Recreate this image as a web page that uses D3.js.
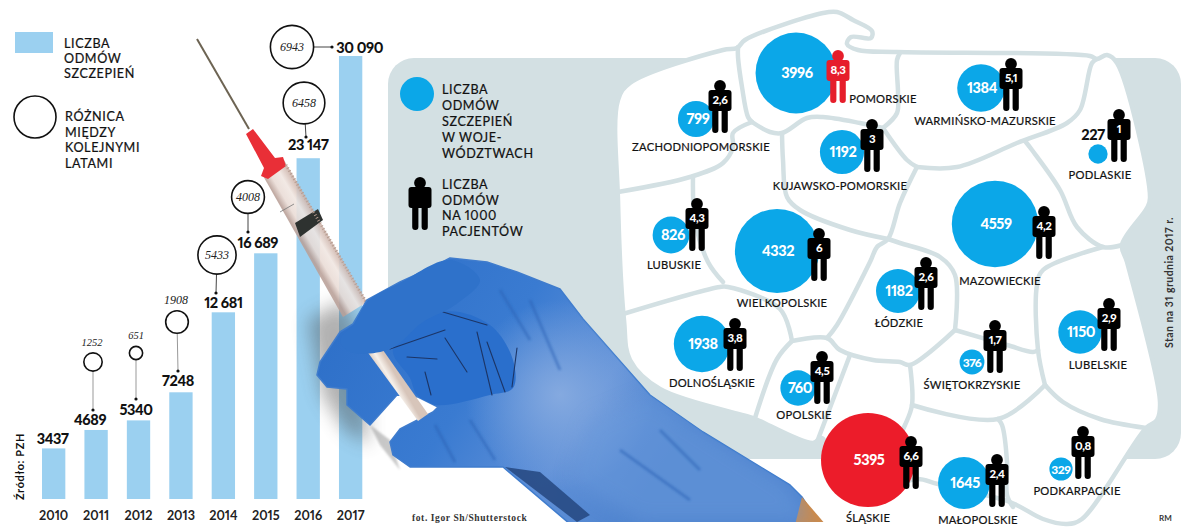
<!DOCTYPE html>
<html>
<head>
<meta charset="utf-8">
<script src="https://cdn.jsdelivr.net/npm/d3@7"></script>
<style>
html, body { margin: 0; padding: 0; background: #fff; }
svg { display: block; }
text { font-family: Lato, "Open Sans", sans-serif; fill: #111; font-feature-settings: "pnum" 1, "lnum" 1; }
.num { font-weight: 900; letter-spacing: -0.4px; }
.leg { font-size: 12.6px; letter-spacing: 0.6px; font-weight: 400; stroke: #111; stroke-width: 0.2px; }
.reg { font-size: 11.2px; letter-spacing: 0.25px; text-anchor: middle; stroke: #111; stroke-width: 0.2px; }
.diff { font-family: "Liberation Serif", serif; font-style: italic; text-anchor: middle; fill: #222; }
</style>
</head>
<body>
<svg id="chart" width="1200" height="532"></svg>
<script>
// values
var years = ["2010", "2011", "2012", "2013", "2014", "2015", "2016", "2017"];
var variants = [3437, 4689, 5340, 7248, 12681, 16689, 23147, 30090];
var variantLabels = ["3437", "4689", "5340", "7248", "12 681", "16 689", "23 147", "30 090"];
var yearDiffs = [null, 1252, 651, 1908, 5433, 4008, 6458, 6943];

var regions = ["ZACHODNIOPOMORSKIE", "POMORSKIE", "WARMIŃSKO-MAZURSKIE", "PODLASKIE",
    "KUJAWSKO-POMORSKIE", "LUBUSKIE", "WIELKOPOLSKIE", "MAZOWIECKIE", "ŁÓDZKIE", "LUBELSKIE",
    "DOLNOŚLĄSKIE", "OPOLSKIE", "ŚWIĘTOKRZYSKIE", "ŚLĄSKIE", "MAŁOPOLSKIE", "PODKARPACKIE"];
var regionVariants = [799, 3996, 1384, 227, 1192, 826, 4332, 4559, 1182, 1150, 1938, 760, 376, 5395, 1645, 329];
var regionRates = ["2,6", "8,3", "5,1", "1", "3", "4,3", "6", "4,2", "2,6", "2,9", "3,8", "4,5", "1,7", "6,6", "2,4", "0,8"];

// where things sit on the page
var bubbleAt = [[696,119],[796,73],[981,88],[1098,154],[842,152],[671,235],[777,251],[995,224],
    [898,291],[1080,332],[702,344],[798,388],[972,362],[868,460],[964,483],[1061,469]];
var personAt = [[720,80],[838,50],[1011,58],[1119,109],[872,119],[697,198],[819,228],[1044,206],
    [926,257],[1109,298],[735,318],[822,351],[995,320],[911,436],[997,454],[1083,426]];
var labelAt = [[701,151],[883,103],[985,125],[1100,179],[840,190],[674,269],[782,307],[1000,285],
    [899,327],[1098,369],[712,387],[804,419],[972,389],[868,522],[978,524],[1077,495]];

var mapOutline = [[618,100],[630,83],[723,50],[737,48],[745,40],[823,13],[837,12],[853,20],[872,31],[871,38],
    [851,37],[847,44],[858,50],[897,52],[1090,56],[1097,59],[1107,55],[1117,63],[1150,198],[1147,208],[1122,245],
    [1127,262],[1160,402],[1157,420],[1146,428],[1082,519],[1067,524],[1043,519],[1010,502],[938,484],[917,479],
    [880,490],[850,490],[835,470],[822,438],[813,443],[760,421],[753,418],[660,389],[630,360],[624,320],[618,200]];
var mapBorders = [
    [[738,47],[738,57],[742,87],[748,117],[752,122]],
    [[752,122],[770,132],[782,133],[807,118],[823,117],[860,123],[883,128]],
    [[782,133],[783,160],[787,197],[800,210],[850,230],[888,239]],
    [[900,53],[897,60],[898,93],[897,113],[883,128]],
    [[883,128],[907,160],[917,167]],
    [[917,167],[957,167],[1017,143],[1067,123],[1080,110],[1092,63],[1097,59]],
    [[1025,141],[1032,150],[1060,190],[1077,227],[1103,247],[1122,245]],
    [[917,167],[900,203],[888,239],[877,247],[870,262],[837,325],[827,338]],
    [[888,239],[900,243],[940,257],[955,275],[955,330]],
    [[1103,247],[1043,270],[1037,285],[1038,350],[1045,385]],
    [[955,330],[1007,345],[1033,352],[1038,350]],
    [[955,330],[910,365],[900,362],[873,360],[840,350],[827,338],[792,341]],
    [[910,365],[912,405],[905,425],[895,445]],
    [[912,405],[998,419],[1045,385]],
    [[1045,385],[1063,402],[1100,419],[1146,428]],
    [[998,419],[1002,425],[1007,462],[1007,495],[1013,507]],
    [[618,192],[690,177],[723,163],[733,147],[733,133],[752,122]],
    [[693,177],[695,220],[708,262],[723,282]],
    [[623,314],[720,287],[728,287],[780,309],[792,341]],
    [[792,341],[777,359],[755,418]],
    [[850,355],[817,442]]
];

var svg = d3.select("#chart");
var defs = svg.append("defs");
var BAR = "#9bd0f0", SKY = "#0ba7e8", RED = "#ec1c2a", MAPGREY = "#d3e0e3";

defs.append("filter").attr("id", "soft").attr("x", "-40%").attr("y", "-40%").attr("width", "180%").attr("height", "180%")
    .append("feGaussianBlur").attr("stdDeviation", 9);
defs.append("filter").attr("id", "soft1")
    .append("feGaussianBlur").attr("stdDeviation", 1.2);

// ---- bars
var x = d3.scaleBand().domain(years).range([42, 362.3]).paddingInner(0.45).paddingOuter(0);
var y = d3.scaleLinear().domain([0, 30090]).range([499, 56]);
var r = d3.scaleSqrt().domain([0, 6943]).range([0, 21.6]);

svg.selectAll("rect.bar").data(variants).enter().append("rect")
    .attr("class", "bar")
    .attr("x", function(d, i){ return x(years[i]); })
    .attr("y", function(d){ return y(d); })
    .attr("width", x.bandwidth())
    .attr("height", function(d){ return y(0) - y(d); })
    .attr("fill", BAR);

var labelDx = [-1, -6, -2.5, -3, 0, -8, 0, 9];
var labelDy = [-4, -5, -5, -6, -4, -5, -8, -3];
svg.selectAll("text.barval").data(variants).enter().append("text")
    .attr("class", "barval num")
    .attr("x", function(d, i){ return x(years[i]) + x.bandwidth() / 2 + labelDx[i]; })
    .attr("y", function(d, i){ return y(d) + labelDy[i]; })
    .attr("text-anchor", "middle")
    .attr("font-size", 14.5)
    .text(function(d, i){ return variantLabels[i]; });

var axis = d3.axisBottom(x).tickSize(0).tickPadding(0);
var axisG = svg.append("g").attr("transform", "translate(0,511)").call(axis);
axisG.select(".domain").remove();
axisG.selectAll("text").attr("font-size", 12.6).attr("font-weight", 700).style("font-family", "Lato").style("fill", "#222");

// circles with the year on year difference
var circleAt = [null, [93,362], [136,353], [177,322], [217,255], [248,197], [304,103], [292,47]];
var stemEnd = [null, [93,410], [136,399], [178,371], [216,293], [248,232], [306,137], [332,47]];
var diffNode = svg.selectAll("g.diff").data(yearDiffs).enter().filter(function(d){ return d != null; })
    .append("g").attr("class", "diff");
diffNode.append("line")
    .attr("x1", function(d){ return circleAt[yearDiffs.indexOf(d)][0]; })
    .attr("y1", function(d){ return circleAt[yearDiffs.indexOf(d)][1]; })
    .attr("x2", function(d){ return stemEnd[yearDiffs.indexOf(d)][0]; })
    .attr("y2", function(d){ return stemEnd[yearDiffs.indexOf(d)][1]; })
    .attr("stroke", function(d){ return d < 2000 ? "#999" : "#444"; }).attr("stroke-width", 1);
diffNode.append("circle")
    .attr("cx", function(d){ return stemEnd[yearDiffs.indexOf(d)][0]; })
    .attr("cy", function(d){ return stemEnd[yearDiffs.indexOf(d)][1]; })
    .attr("r", 1.6).attr("fill", "#111");
diffNode.append("circle")
    .attr("cx", function(d){ return circleAt[yearDiffs.indexOf(d)][0]; })
    .attr("cy", function(d){ return circleAt[yearDiffs.indexOf(d)][1]; })
    .attr("r", function(d){ return r(d); })
    .attr("fill", "#fff").attr("stroke", "#111").attr("stroke-width", 1.6);
diffNode.append("text")
    .attr("class", "diff")
    .attr("x", function(d){ return circleAt[yearDiffs.indexOf(d)][0] - (d < 2000 && d != 651 ? 1 : 0); })
    .attr("y", function(d){
        var c = circleAt[yearDiffs.indexOf(d)];
        return d < 2000 ? c[1] - r(d) - 7 : c[1] + 4;
    })
    .attr("font-size", function(d){ return d < 1500 ? 10.5 : 12; })
    .text(function(d){ return d; });

// left legend
svg.append("rect").attr("x", 15).attr("y", 32).attr("width", 38).attr("height", 21).attr("fill", BAR);
svg.append("circle").attr("cx", 35).attr("cy", 117).attr("r", 21).attr("fill", "none").attr("stroke", "#111").attr("stroke-width", 1.6);
function legendLines(lines, px, baselines) {
    lines.forEach(function(t, i){
        svg.append("text").attr("class", "leg").attr("x", px).attr("y", baselines[i]).text(t);
    });
}
legendLines(["LICZBA", "ODMÓW", "SZCZEPIEŃ"], 64, [47.5, 63, 78]);
legendLines(["RÓŻNICA", "MIĘDZY", "KOLEJNYMI", "LATAMI"], 65, [121, 137, 152, 168]);

svg.append("text").attr("transform", "translate(24,500) rotate(-90)")
    .attr("font-size", 11).attr("letter-spacing", 0.6).attr("font-weight", 700).text("Źródło: PZH");

// ---- map panel
svg.append("rect").attr("x", 388).attr("y", 58).attr("width", 793).attr("height", 401).attr("rx", 26).attr("fill", MAPGREY);

svg.append("path")
    .attr("d", d3.line().curve(d3.curveCatmullRomClosed.alpha(0.5))(mapOutline))
    .attr("fill", "#fff").attr("stroke", MAPGREY).attr("stroke-width", 4.5).attr("stroke-linejoin", "round");
svg.selectAll("path.border").data(mapBorders).enter().append("path")
    .attr("class", "border")
    .attr("d", d3.line().curve(d3.curveCatmullRom.alpha(0.5)))
    .attr("fill", "none").attr("stroke", MAPGREY).attr("stroke-width", 4.5).attr("stroke-linecap", "round");

// bubbles, area goes with the number of variants
var bubble = d3.scaleSqrt().domain([0, 5395]).range([0, 47]);
svg.selectAll("circle.bub").data(regionVariants).enter().append("circle")
    .attr("class", "bub")
    .attr("cx", function(d, i){ return bubbleAt[i][0]; })
    .attr("cy", function(d, i){ return bubbleAt[i][1]; })
    .attr("r", function(d){ return bubble(d); })
    .attr("fill", function(d){ return d == d3.max(regionVariants) ? RED : SKY; });

function drawPerson(g, fill) {
    g.append("circle").attr("cy", 6).attr("r", 5.9).attr("fill", fill);
    g.append("rect").attr("x", -3.5).attr("y", 8).attr("width", 7).attr("height", 5).attr("fill", fill);
    g.append("rect").attr("x", -11.5).attr("y", 10).attr("width", 23).attr("height", 21).attr("rx", 3).attr("fill", fill);
    g.append("rect").attr("x", -7.8).attr("y", 26).attr("width", 6.2).attr("height", 27).attr("rx", 3).attr("fill", fill);
    g.append("rect").attr("x", 1.6).attr("y", 26).attr("width", 6.2).attr("height", 27).attr("rx", 3).attr("fill", fill);
}
var rateMax = d3.max(regionRates, function(d){ return parseFloat(d.replace(",", ".")); });
svg.selectAll("g.person").data(regionRates).enter().append("g")
    .attr("class", "person")
    .attr("transform", function(d, i){ return "translate(" + personAt[i][0] + "," + personAt[i][1] + ")"; })
    .each(function(d){
        var top = parseFloat(d.replace(",", ".")) == rateMax;
        var g = d3.select(this);
        drawPerson(g, top ? "#e61e2b" : "#000");
        g.append("text").attr("class", "num").attr("text-anchor", "middle").attr("y", 24)
            .attr("font-size", 11.5).style("fill", "#fff").text(d);
    });

// numbers go after the figures, the small bubbles sit half under them
svg.selectAll("text.bubval").data(regionVariants).enter().append("text")
    .attr("class", "bubval num")
    .attr("text-anchor", "middle")
    .attr("x", function(d, i){
        if (d == 227) return bubbleAt[i][0] - 5;
        if (d < 400) return bubbleAt[i][0];
        return bubbleAt[i][0] + (d < 1000 ? 2 : 1);
    })
    .attr("y", function(d, i){ return d == 227 ? bubbleAt[i][1] - 14 : bubbleAt[i][1] + 5; })
    .attr("font-size", function(d){ return d < 400 && d != 227 ? 12 : 14.5; })
    .attr("letter-spacing", function(d){ return d < 400 && d != 227 ? -0.7 : null; })
    .style("fill", function(d){ return d == 227 ? "#111" : "#fff"; })
    .text(function(d){ return d; });

svg.selectAll("text.reg").data(regions).enter().append("text")
    .attr("class", "reg")
    .attr("x", function(d, i){ return labelAt[i][0]; })
    .attr("y", function(d, i){ return labelAt[i][1]; })
    .text(function(d){ return d; });

// map legend
svg.append("circle").attr("cx", 417).attr("cy", 94).attr("r", 17).attr("fill", SKY);
var legendPerson = svg.append("g").attr("transform", "translate(420,177)");
drawPerson(legendPerson, "#000");
legendLines(["LICZBA", "ODMÓW", "SZCZEPIEŃ", "W WOJE-", "WÓDZTWACH"], 442, [94, 110, 126, 142, 158]);
legendLines(["LICZBA", "ODMÓW", "NA 1000", "PACJENTÓW"], 442, [189, 205, 220, 236]);

svg.append("text").attr("transform", "translate(1173,348) rotate(-90)")
    .attr("font-size", 10.5).attr("letter-spacing", 0.45).attr("font-weight", 700).style("fill", "#333").text("Stan na 31 grudnia 2017 r.");
svg.append("text").attr("x", 412).attr("y", 521).style("font-family", "Liberation Serif")
    .attr("font-size", 9.5).attr("letter-spacing", 0.6).attr("font-weight", 700).style("fill", "#333").text("fot. Igor Sh/Shutterstock");
svg.append("text").attr("x", 1159).attr("y", 521).attr("font-size", 8).attr("font-weight", 700).style("fill", "#333").text("RM");

// ---- syringe and glove, drawn by hand on top of everything
function grad(id, x1, y1, x2, y2, stops) {
    var g = defs.append("linearGradient").attr("id", id).attr("gradientUnits", "userSpaceOnUse")
        .attr("x1", x1).attr("y1", y1).attr("x2", x2).attr("y2", y2);
    stops.forEach(function(s){ g.append("stop").attr("offset", s[0]).attr("stop-color", s[1]); });
}
grad("barrel", 262, 173, 284, 160, [[0, "#b9a098"], [0.25, "#e9dbd5"], [0.6, "#f0e6e1"], [1, "#c8aca2"]]);
grad("glove", 330, 300, 640, 500, [[0, "#2d6fc8"], [0.45, "#3a7bd1"], [0.75, "#5f90d8"], [1, "#4f84cf"]]);
grad("rod", 372, 362, 384, 355, [[0, "#d9c7bb"], [0.5, "#f6f0ea"], [1, "#d7c5ba"]]);
var palmGlow = defs.append("radialGradient").attr("id", "palm").attr("gradientUnits", "userSpaceOnUse")
    .attr("cx", 560).attr("cy", 395).attr("r", 95);
palmGlow.append("stop").attr("offset", 0).attr("stop-color", "#87abe0").attr("stop-opacity", 0.95);
palmGlow.append("stop").attr("offset", 1).attr("stop-color", "#87abe0").attr("stop-opacity", 0);

var poly = d3.line().curve(d3.curveCatmullRomClosed.alpha(0.5));
var sharp = function(p){ return "M" + p.join("L") + "Z"; };

// white background of the photo, it hides the panel between and under the fingers
svg.append("path").attr("d", sharp([[380,385],[440,395],[500,440],[500,470],[380,470]])).attr("fill", "#fff");

// shadow cast on the bars
svg.append("path").attr("d", sharp([[308,320],[345,300],[365,350],[368,445],[345,430],[322,395]]))
    .attr("fill", "#444").attr("opacity", 0.42).attr("filter", "url(#soft)");
svg.append("path").attr("d", sharp([[370,425],[390,440],[400,470],[380,445]]))
    .attr("fill", "#777").attr("opacity", 0.4).attr("filter", "url(#soft1)");

// needle, hub, barrel
svg.append("line").attr("x1", 197).attr("y1", 39).attr("x2", 249).attr("y2", 129).attr("stroke", "#6d6453").attr("stroke-width", 2);
svg.append("path").attr("d", sharp([[262,174],[284,160],[367,302],[343,317]])).attr("fill", "url(#barrel)").attr("opacity", 0.88);
svg.append("path").attr("d", sharp([[246,134],[253,129],[275,158],[283,157],[286,166],[268,179],[261,176],[264,168]])).attr("fill", "#e92f37");
svg.append("path").attr("d", sharp([[295,223],[318,209],[323,220],[300,237]])).attr("fill", "#2e3230");
svg.append("line").attr("x1", 286).attr("y1", 165).attr("x2", 368).attr("y2", 305).attr("stroke", "#b89e92").attr("stroke-width", 3).attr("stroke-dasharray", "1 2.2");
svg.append("line").attr("x1", 280).attr("y1", 212).attr("x2", 294).attr("y2", 204).attr("stroke", "#777").attr("stroke-width", 0.8);

// glove
var gloveEdge = [[317,375],[320,362],[340,332],[353,324],[367,300],[400,282],[433,267],[450,258],[487,262],[517,272],
    [560,289],[583,319],[612,352],[650,395],[703,432],[790,485],[802,497],[823,530],[577,530],[503,467],[410,467],
    [393,455],[390,442],[400,429],[433,412],[438,407],[418,397],[397,395],[370,425],[347,405],[347,389],[327,387]];
svg.append("clipPath").attr("id", "photo").append("rect").attr("x", 0).attr("y", 0).attr("width", 1200).attr("height", 522);
svg.append("clipPath").attr("id", "gloveclip").append("path").attr("d", sharp(gloveEdge));
var glove = svg.append("g").attr("clip-path", "url(#photo)");
glove.append("path").attr("d", sharp(gloveEdge)).attr("fill", "url(#glove)").attr("stroke", "#3f7ccd").attr("stroke-width", 1.5).attr("stroke-linejoin", "round");
glove.append("path").attr("d", sharp([[802,497],[826,525],[795,525]])).attr("fill", "#c98a4e");
glove.append("path").attr("d", sharp(gloveEdge)).attr("fill", "url(#palm)");
var inGlove = glove.append("g").attr("clip-path", "url(#gloveclip)");
inGlove.append("path").attr("d", sharp([[650,395],[790,485],[810,522],[640,522],[570,480],[590,420]]))
    .attr("fill", "#6b9adb").attr("opacity", 0.5).attr("filter", "url(#soft)");
inGlove.append("path").attr("d", poly([[393,350],[443,312],[490,325],[513,360],[513,388],[490,395],[435,405],[417,395],[410,378]]))
    .attr("fill", "#2a6fcc");
inGlove.append("path").attr("d", sharp([[505,467],[540,472],[590,515],[577,522]])).attr("fill", "#24477f").attr("opacity", 0.85);

var creases = [[[443,312],[487,325]], [[390,349],[445,330]], [[445,338],[467,372]], [[477,332],[492,395]], [[487,342],[505,392]],
    [[517,348],[512,387]], [[407,357],[437,359]], [[425,372],[431,395]]];
glove.selectAll("line.crease").data(creases).enter().append("line")
    .attr("class", "crease")
    .attr("x1", function(d){ return d[0][0]; }).attr("y1", function(d){ return d[0][1]; })
    .attr("x2", function(d){ return d[1][0]; }).attr("y2", function(d){ return d[1][1]; })
    .attr("stroke", "#1c3566").attr("stroke-width", 1.1).attr("stroke-linecap", "round");

// plunger rod goes over the lower fingers, under the index finger
svg.append("path").attr("d", sharp([[366,350],[378,343],[428,414],[418,421]])).attr("fill", "url(#rod)");

svg.append("path").attr("d", poly([[350,352],[340,340],[354,324],[368,301],[400,283],[450,260],[480,280],[455,305],[423,322],[390,349]]))
    .attr("fill", "#2f72ca");
var folds = [[[400,300],[418,318]], [[425,278],[440,300]], [[500,290],[530,340]], [[530,300],[560,370]], [[470,420],[495,460]], [[435,425],[455,462]], [[660,430],[700,470]], [[620,450],[690,500]]];
glove.selectAll("line.fold").data(folds).enter().append("line")
    .attr("class", "fold")
    .attr("x1", function(d){ return d[0][0]; }).attr("y1", function(d){ return d[0][1]; })
    .attr("x2", function(d){ return d[1][0]; }).attr("y2", function(d){ return d[1][1]; })
    .attr("stroke", "#2a62b5").attr("stroke-width", 3).attr("opacity", 0.5).attr("filter", "url(#soft1)");
</script>
</body>
</html>
